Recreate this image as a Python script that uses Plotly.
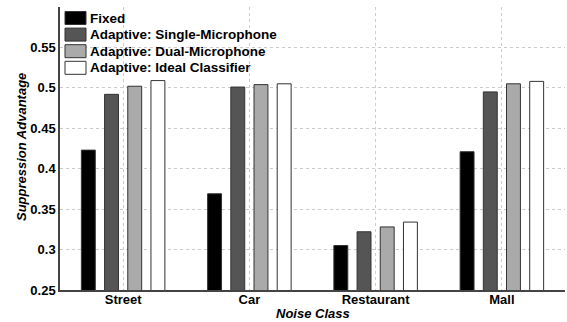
import plotly.graph_objects as go

categories = ["Street", "Car", "Restaurant", "Mall"]
series_names = ["Fixed", "Adaptive: Single-Microphone", "Adaptive: Dual-Microphone", "Adaptive: Ideal Classifier"]
fixed = [0.423, 0.369, 0.305, 0.421]
single_mic = [0.492, 0.501, 0.322, 0.495]
dual_mic = [0.502, 0.504, 0.328, 0.505]
ideal = [0.509, 0.505, 0.334, 0.508]
colors = ["#000000", "#555555", "#aaaaaa", "#ffffff"]
y_ticks = [0.25, 0.3, 0.35, 0.4, 0.45, 0.5, 0.55]
y_tick_labels = ["0.25", "0.3", "0.35", "0.4", "0.45", "0.5", "0.55"]

FONT = "Liberation Sans, Arial, sans-serif"
W, H = 567, 322
ML, MR, MT, MB = 60, 2, 7, 32
PW, PH = W - ML - MR, H - MT - MB


def px_x(x):
    return (x - ML) / PW


def px_y(y):
    return (H - MB - y) / PH


fig = go.Figure()
for name, vals, col in zip(series_names, [fixed, single_mic, dual_mic, ideal], colors):
    fig.add_trace(go.Bar(
        x=categories, y=vals, name=name, showlegend=False,
        marker=dict(color=col, line=dict(color="#333333", width=1)),
    ))

shapes = []
annotations = []
# white backdrop of the legend (covers gridlines only)
shapes.append(dict(type="rect", xref="paper", yref="paper", layer="between",
                   x0=px_x(61), x1=px_x(278), y0=px_y(77), y1=px_y(7.5),
                   fillcolor="white", line=dict(width=0)))
for i, (name, col) in enumerate(zip(series_names, colors)):
    cy = 18 + 16.6 * i
    shapes.append(dict(type="rect", xref="paper", yref="paper", layer="above",
                       x0=px_x(65), x1=px_x(86), y0=px_y(cy + 6.5), y1=px_y(cy - 6.5),
                       fillcolor=col, line=dict(color="#333333", width=1)))
    annotations.append(dict(text=name, xref="paper", yref="paper", x=px_x(88), y=px_y(cy),
                            xanchor="left", yanchor="middle", showarrow=False,
                            font=dict(family=FONT, size=13.5, color="black", weight="bold")))

annotations.append(dict(text="Suppression Advantage", xref="paper", yref="paper",
                        x=px_x(21), y=px_y(147), textangle=-90, showarrow=False,
                        xanchor="center", yanchor="middle",
                        font=dict(family=FONT, size=13, color="black", weight="bold", style="italic")))
annotations.append(dict(text="Noise Class", xref="paper", yref="paper",
                        x=px_x(313), y=px_y(313), showarrow=False,
                        xanchor="center", yanchor="middle",
                        font=dict(family=FONT, size=13, color="black", weight="bold", style="italic")))

fig.update_layout(
    width=W, height=H,
    margin=dict(l=ML, r=MR, t=MT, b=MB),
    paper_bgcolor="white", plot_bgcolor="white",
    barmode="group", bargap=0.265, bargroupgap=0.4,
    font=dict(family=FONT, size=13, color="black", weight="bold"),
    showlegend=False,
    shapes=shapes, annotations=annotations,
    xaxis=dict(
        automargin=False,
        showline=True, linecolor="#444444", linewidth=1.5,
        showgrid=True, gridcolor="#cccccc", griddash="dot", gridwidth=1,
        ticks="", ticklabelstandoff=-3,
        tickfont=dict(family=FONT, size=13, weight="bold", color="black"),
    ),
    yaxis=dict(
        automargin=False,
        range=[0.25, 0.6],
        tickvals=y_ticks, ticktext=y_tick_labels,
        showline=True, linecolor="#444444", linewidth=1.5,
        showgrid=True, gridcolor="#cccccc", griddash="dot", gridwidth=1,
        zeroline=False, ticks="",
        tickfont=dict(family=FONT, size=13, weight="bold", color="black"),
    ),
)

fig.write_html("out.html", config={"displayModeBar": False},
               post_script="document.body.style.margin='0';document.body.style.overflow='hidden';")
